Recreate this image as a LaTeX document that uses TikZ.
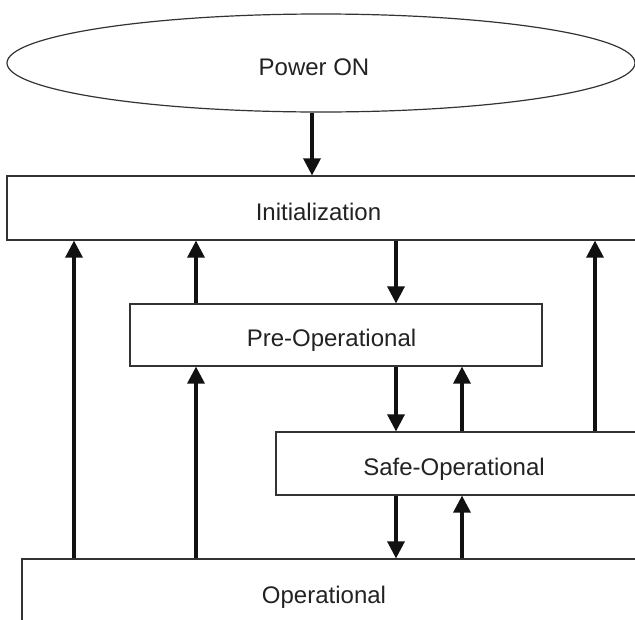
\documentclass[tikz,border=0pt]{standalone}
\usepackage{fontspec}
\setmainfont{Liberation Sans}
\usetikzlibrary{shapes.geometric,arrows.meta}
\definecolor{linegray}{HTML}{333333}
\definecolor{textgray}{HTML}{222222}
\definecolor{arrowblack}{HTML}{111111}
\begin{document}
\begin{tikzpicture}[x=1pt,y=-1pt,
  box/.style={draw=linegray, line width=1.2pt, rectangle, inner sep=0pt},
  lab/.style={font=\fontsize{24}{28}\selectfont, text=textgray, text depth=0pt, inner sep=0pt},
  arr/.style={line width=3.2pt, draw=arrowblack, -{Triangle[width=17pt,length=17pt]}}]
\useasboundingbox (0,0) rectangle (635,619);
\clip (0,0) rectangle (635,619);
% states
\node[box, ellipse, minimum width=628pt, minimum height=98pt,
      label={[lab, xshift=-7pt, yshift=-4pt]center:Power ON}] (power) at (321,63) {};
\node[box, minimum width=633pt, minimum height=64pt,
      label={[lab, xshift=-5pt, yshift=-3.5pt]center:Initialization}] (init) at (323.5,208) {};
\node[box, minimum width=412pt, minimum height=62pt,
      label={[lab, xshift=-4.5pt, yshift=-2.5pt]center:Pre-Operational}] (pre) at (336,335) {};
\node[box, minimum width=364pt, minimum height=63pt,
      label={[lab, xshift=-4pt, yshift=-3pt]center:Safe-Operational}] (safe) at (458,463.5) {};
\node[box, minimum width=618pt, minimum height=72pt,
      label={[lab, xshift=-7pt, yshift=0.5pt]center:Operational}] (op) at (331,595) {};
% column positions of the transitions
\coordinate (cA) at (74,0);
\coordinate (cB) at (196,0);
\coordinate (cP) at (312,0);
\coordinate (cC) at (396,0);
\coordinate (cD) at (462,0);
\coordinate (cE) at (595,0);
% transitions
\draw[arr] (cP |- power.south) -- (cP |- init.north);
\draw[arr] (cA |- op.north) -- (cA |- init.south);
\draw[arr] (cB |- op.north) -- (cB |- pre.south);
\draw[arr] (cB |- pre.north) -- (cB |- init.south);
\draw[arr] (cC |- init.south) -- (cC |- pre.north);
\draw[arr] (cC |- pre.south) -- (cC |- safe.north);
\draw[arr] (cC |- safe.south) -- (cC |- op.north);
\draw[arr] (cD |- safe.north) -- (cD |- pre.south);
\draw[arr] (cD |- op.north) -- (cD |- safe.south);
\draw[arr] (cE |- safe.north) -- (cE |- init.south);
\end{tikzpicture}
\end{document}
